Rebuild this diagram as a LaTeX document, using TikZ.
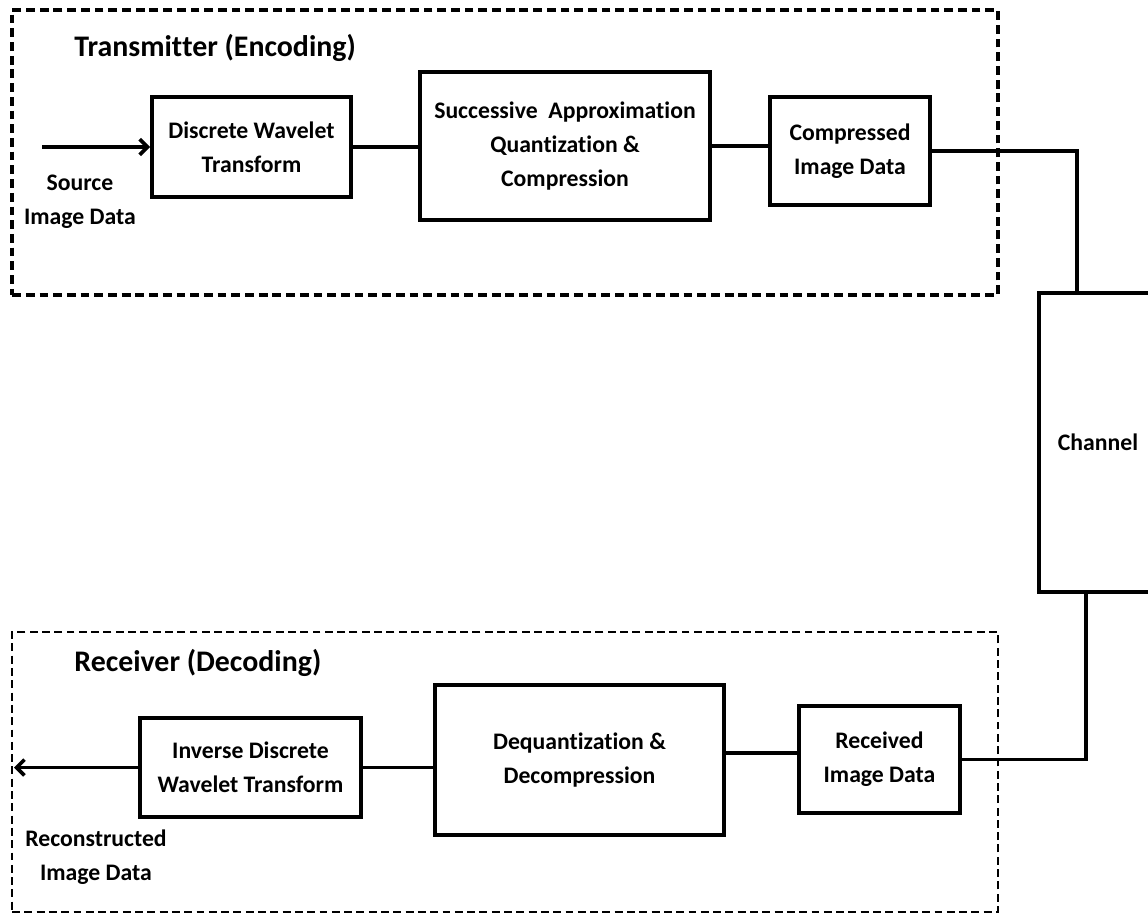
\documentclass[tikz,border=0pt]{standalone}
\usepackage{fontspec}
\setmainfont{Carlito}[Ligatures={NoCommon,NoRequired,NoContextual},BoldFeatures={Ligatures={NoCommon,NoRequired,NoContextual}}]
\usetikzlibrary{arrows.meta,calc}
\newcommand\blkfont{\fontsize{13.5}{19.3}\selectfont\bfseries}
\newcommand\ttlfont{\fontsize{17}{21}\selectfont\bfseries}
% keeps two letters apart so that no ligature joins them
\newcommand\nolg{\kern0pt}
\begin{document}
\begin{tikzpicture}[x=0.02cm,y=-0.02cm,
  block/.style={draw,line width=2.1pt,inner sep=0pt,align=center,font=\blkfont},
  wire/.style={line width=2.1pt},
  flow/.style={wire,-{Straight Barb[length=4.5pt,width=9pt]}},
  txt/.style={inner sep=0pt,align=center,font=\blkfont},
  title/.style={inner sep=0pt,anchor=west,font=\ttlfont},
  encframe/.style={draw,line width=2pt,dash pattern=on 5pt off 2.8pt,inner sep=0pt},
  decframe/.style={draw,line width=1.4pt,dash pattern=on 4.5pt off 2.5pt,inner sep=0pt}]
\useasboundingbox (0,0) rectangle (1148,915);
\clip (0,0) rectangle (1148,915);

% group frames
\node[encframe,minimum width=19.72cm,minimum height=5.7cm] (enc) at (505,152.5) {};
\node[decframe,minimum width=19.72cm,minimum height=5.6cm] (dec) at (505,772) {};
\node[title] (enctitle) at (74,48) {Transmit\nolg ter (Encoding)};
\node[title] (dectitle) at (74,663) {Receiver (Decoding)};

% transmitter blocks
\node[block,minimum width=3.98cm,minimum height=2.0cm] (dwt) at (251.5,147) {Discrete Wavelet\\Transform};
\node[block,minimum width=5.8cm,minimum height=2.96cm] (saq) at (565,146) {Successive~ Approximat\nolg ion\\Quantizat\nolg ion \&\\Compression};
\node[block,minimum width=3.2cm,minimum height=2.16cm] (comp) at (850,151) {Compressed\\Image Data};

% channel
\node[block,minimum width=2.36cm,minimum height=5.98cm] (chan) at (1098,442.5) {Channel};

% receiver blocks
\node[block,minimum width=3.22cm,minimum height=2.14cm] (recv) at (879.5,759.5) {Received\\Image Data};
\node[block,minimum width=5.78cm,minimum height=3.0cm] (deq) at (579.5,760) {Dequantizat\nolg ion \&\\Decompression};
\node[block,minimum width=4.42cm,minimum height=1.98cm] (idwt) at (250.5,767.5) {Inverse Discrete\\Wavelet Transform};

% end labels
\node[txt] (srclbl) at (80,202) {Source\\Image Data};
\node[txt] (outlbl) at (96,857.5) {Reconstructed\\Image Data};

% connectors
\coordinate (src) at (42,147);
\coordinate (out) at (14,767.5);
\coordinate (tapT) at ($(chan.north west)+(40,0)$);
\coordinate (tapB) at ($(chan.south west)+(49,0)$);

\draw[flow] (src) -- (dwt.west);
\draw[wire] (dwt.east) -- (dwt.east -| saq.west);
\draw[wire] (saq.east) -- (saq.east -| comp.west);
\draw[wire] (comp.east) -| (tapT);
\draw[wire] (tapB) |- (recv.east);
\draw[wire] ([yshift=0.13cm]recv.west) -- ([yshift=0.13cm]recv.west -| deq.east);
\draw[wire] (idwt.east) -- (idwt.east -| deq.west);
\draw[flow] (idwt.west) -- (out);
\end{tikzpicture}
\end{document}
